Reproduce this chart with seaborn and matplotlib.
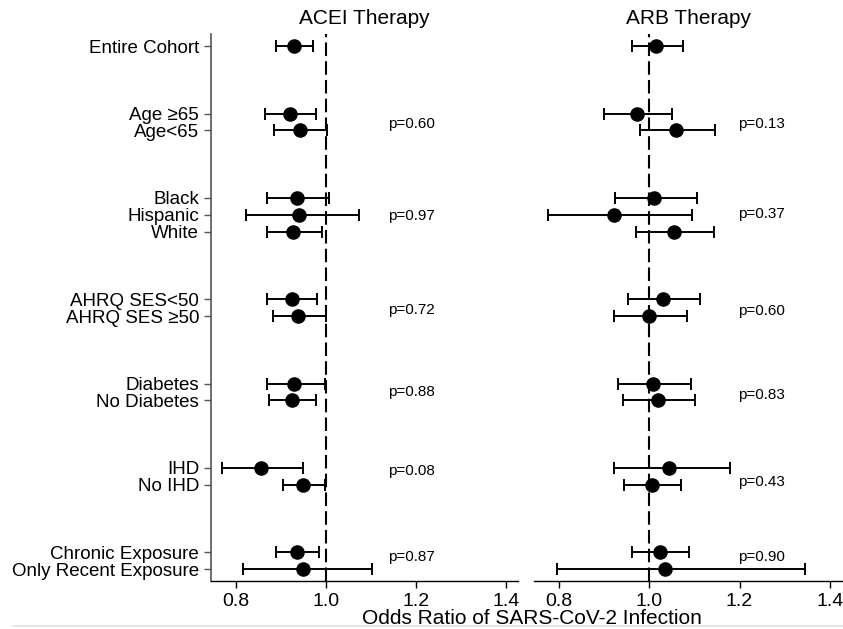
import matplotlib
matplotlib.use("Agg")
import matplotlib.pyplot as plt
from matplotlib.lines import Line2D
import seaborn as sns
import pandas as pd

# subgroup labels, in groups
groups = [
    ["Entire Cohort"],
    ["Age \u226565", "Age<65"],
    ["Black", "Hispanic", "White"],
    ["AHRQ SES<50", "AHRQ SES \u226550"],
    ["Diabetes", "No Diabetes"],
    ["IHD", "No IHD"],
    ["Chronic Exposure", "Only Recent Exposure"],
]

# ACEI therapy: odds ratio and 95% CI
acei_or = [0.929, 0.920, 0.942, 0.937, 0.940, 0.928, 0.924, 0.939, 0.930, 0.924, 0.856, 0.950, 0.936, 0.949]
acei_lo = [0.889, 0.864, 0.884, 0.870, 0.822, 0.869, 0.869, 0.882, 0.870, 0.873, 0.770, 0.905, 0.889, 0.817]
acei_hi = [0.971, 0.978, 1.002, 1.007, 1.073, 0.992, 0.981, 1.000, 0.999, 0.978, 0.950, 0.998, 0.985, 1.103]
acei_p = ["p=0.60", "p=0.97", "p=0.72", "p=0.88", "p=0.08", "p=0.87"]

# ARB therapy
arb_or = [1.016, 0.972, 1.059, 1.011, 0.923, 1.055, 1.030, 1.000, 1.009, 1.020, 1.043, 1.007, 1.023, 1.035]
arb_lo = [0.961, 0.899, 0.979, 0.924, 0.777, 0.971, 0.954, 0.923, 0.931, 0.943, 0.923, 0.945, 0.961, 0.795]
arb_hi = [1.074, 1.050, 1.146, 1.106, 1.094, 1.144, 1.113, 1.083, 1.092, 1.102, 1.179, 1.071, 1.088, 1.345]
arb_p = ["p=0.13", "p=0.37", "p=0.60", "p=0.83", "p=0.43", "p=0.90"]

xticks = [0.8, 1.0, 1.2, 1.4]

# small vertical nudges of the p-value labels (in row units)
acei_p_dy = [0.15, 0.05, 0.15, 0.0, -0.3, -0.2]
arb_p_dy = [0.15, -0.05, 0.2, 0.15, 0.35, -0.25]

# row positions: 1 unit between rows in a group, 4 between groups
labels, pos, group_pos = [], [], []
y = -4
for g in groups:
    y += 4
    rows = []
    for lab in g:
        labels.append(lab)
        pos.append(y)
        rows.append(y)
        y += 1
    y -= 1
    group_pos.append(sum(rows) / len(rows))

sns.set_theme(style="ticks")
plt.rcParams["font.family"] = ["Liberation Sans", "DejaVu Sans"]
plt.rcParams["text.color"] = "black"
plt.rcParams["xtick.labelcolor"] = "black"
plt.rcParams["ytick.labelcolor"] = "black"
plt.rcParams["axes.titlecolor"] = "black"

fig = plt.figure(figsize=(8.43, 6.29), dpi=100)
ax1 = fig.add_axes([0.2503, 0.0763, 0.3642, 0.8696])
ax2 = fig.add_axes([0.6335, 0.0763, 0.3654, 0.8696])

panels = [
    (ax1, "ACEI Therapy", acei_or, acei_lo, acei_hi, acei_p, acei_p_dy, 1.138),
    (ax2, "ARB Therapy", arb_or, arb_lo, arb_hi, arb_p, arb_p_dy, 1.197),
]

for ax, title, est, lo, hi, pvals, pdy, px in panels:
    df = pd.DataFrame({"label": labels, "y": pos, "or": est, "lo": lo, "hi": hi})
    ax.axvline(1.0, color="black", lw=1.5, ls=(0, (6.5, 2.5)), zorder=1)
    ax.errorbar(df["or"], df["y"],
                xerr=[df["or"] - df["lo"], df["hi"] - df["or"]],
                fmt="none", ecolor="black", elinewidth=1.4, capsize=4, capthick=1.4, zorder=2)
    sns.scatterplot(data=df, x="or", y="y", ax=ax, color="black", s=110,
                    edgecolor="black", linewidth=0, zorder=3, legend=False)
    for gp, ptxt, dy in zip(group_pos[1:], pvals, pdy):
        ax.text(px, gp + dy, ptxt, ha="left", va="center", fontsize=11)
    ax.set_xlim(0.745, 1.427)
    ax.set_ylim(31.7, -0.71)
    ax.set_xticks(xticks)
    ax.set_xticklabels([f"{t:.1f}" for t in xticks], fontsize=14)
    ax.set_xlabel("")
    ax.set_ylabel("")
    ax.set_title(title, fontsize=15, pad=7)
    ax.tick_params(axis="x", length=5, width=1, direction="out", color="black")
    for s in ["top", "right"]:
        ax.spines[s].set_visible(False)
    ax.spines["bottom"].set_linewidth(1)
    ax.spines["bottom"].set_color("black")

ax1.set_yticks(pos)
ax1.set_yticklabels(labels, fontsize=13.5)
ax1.tick_params(axis="y", length=5, width=1, color="#555555")
ax1.spines["left"].set_color("#555555")
ax1.spines["left"].set_linewidth(1.2)

ax2.set_yticks([])
ax2.spines["left"].set_visible(False)

fig.text(0.631, 0.017, "Odds Ratio of SARS-CoV-2 Infection", ha="center", va="center", fontsize=15)

# faint separator along the bottom edge
fig.add_artist(Line2D([0.015, 1.0], [0.004, 0.004], transform=fig.transFigure, color="#e6e6e6", lw=1.5))

fig.savefig("out.png", dpi=100)
